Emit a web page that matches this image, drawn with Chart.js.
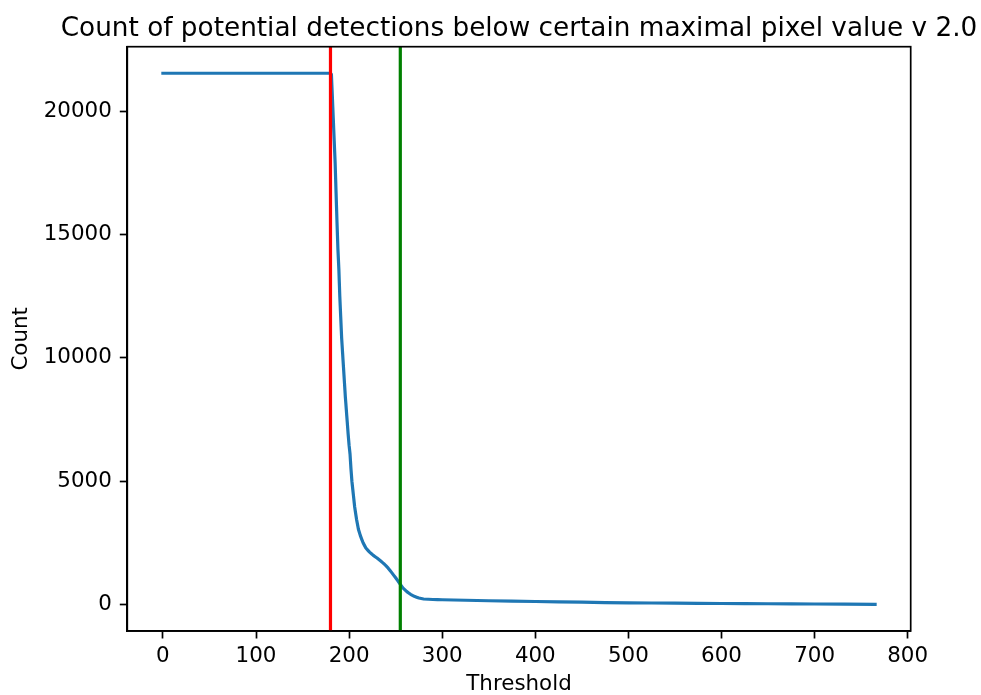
<!DOCTYPE html>
<html>
<head>
<meta charset="utf-8">
<script src="https://cdn.jsdelivr.net/npm/chart.js@4/dist/chart.umd.min.js"></script>
<style>
  html, body { margin: 0; padding: 0; background: #ffffff; }
  canvas { display: block; }
</style>
</head>
<body>
<canvas id="c" width="981" height="695"></canvas>
<script>
// ---- data ----
const thresholds = [0, 180, 181, 182, 183, 184, 185, 186, 187, 188, 189, 190, 192, 193, 194, 195, 196, 197, 198, 199, 200, 201, 202, 203, 204, 205, 206, 208, 210, 212, 215, 218, 222, 226, 230, 234, 238, 242, 246, 250, 254, 258, 262, 266, 270, 275, 280, 290, 300, 350, 400, 450, 500, 550, 600, 650, 700, 765];
const counts = [21540, 21540, 21500, 20600, 19700, 18800, 17900, 16700, 15500, 14400, 13600, 12500, 10800, 10200, 9600, 9000, 8400, 7900, 7400, 6900, 6450, 6100, 5500, 5000, 4650, 4300, 3950, 3450, 3050, 2800, 2500, 2290, 2120, 1990, 1880, 1760, 1630, 1470, 1280, 1080, 870, 660, 520, 410, 330, 260, 220, 200, 190, 150, 120, 90, 65, 50, 38, 28, 18, 5];
const redLineX = [180];
const greenLineX = [255];
const xTicks = [0, 100, 200, 300, 400, 500, 600, 700, 800];
const yTicks = [0, 5000, 10000, 15000, 20000];
const xRange = [-38.25, 803.25];
const yRange = [-1077, 22617];

const titleText = 'Count of potential detections below certain maximal pixel value v 2.0';
const xLabel = 'Threshold';
const yLabel = 'Count';

const FONT = 'DejaVu Sans';
const TICK_PX = 21.4;
const TITLE_PX = 26.3;

const curveData = thresholds.map((t, i) => ({ x: t, y: counts[i] }));
const vline = (x) => [{ x: x, y: yRange[0] }, { x: x, y: yRange[1] }];

const frame = {
  id: 'frame',
  afterDatasetsDraw(chart) {
    const a = chart.chartArea, ctx = chart.ctx;
    ctx.save();
    ctx.strokeStyle = '#000';
    ctx.lineWidth = 1.7;
    ctx.strokeRect(a.left, a.top, a.right - a.left, a.bottom - a.top);
    ctx.restore();
  },
  afterDraw(chart) {
    const a = chart.chartArea, ctx = chart.ctx;
    ctx.save();
    ctx.fillStyle = '#000';
    ctx.font = TITLE_PX + 'px "' + FONT + '"';
    ctx.textAlign = 'center';
    ctx.textBaseline = 'alphabetic';
    ctx.fillText(titleText, (a.left + a.right) / 2, 35.5);
    ctx.restore();
  }
};

new Chart(document.getElementById('c'), {
  type: 'line',
  data: {
    datasets: [
      { data: vline(redLineX[0]), borderColor: '#ff0000', borderWidth: 3.2, pointRadius: 0, borderCapStyle: 'butt' },
      { data: vline(greenLineX[0]), borderColor: '#008000', borderWidth: 3.2, pointRadius: 0, borderCapStyle: 'butt' },
      { data: curveData, borderColor: '#1f77b4', borderWidth: 3.2, pointRadius: 0, tension: 0.0001, borderJoinStyle: 'round', borderCapStyle: 'square' }
    ]
  },
  options: {
    responsive: false,
    animation: false,
    devicePixelRatio: 1,
    events: [],
    layout: { padding: { left: 0, right: 70.3, top: 46.7, bottom: 0 } },
    plugins: {
      legend: { display: false },
      tooltip: { enabled: false },
      title: { display: false }
    },
    scales: {
      x: {
        type: 'linear',
        min: xRange[0],
        max: xRange[1],
        afterBuildTicks: (s) => { s.ticks = xTicks.map(v => ({ value: v })); },
        afterFit: (s) => { s.height = 64; },
        ticks: { color: '#000', font: { family: FONT, size: TICK_PX, lineHeight: 1.2 }, padding: 5, maxRotation: 0, autoSkip: false, callback: (v) => String(v) },
        grid: { drawOnChartArea: false, drawTicks: true, tickLength: 7.5, tickWidth: 1.7, tickColor: '#000' },
        border: { display: true, color: '#000', width: 1.7 },
        title: { display: true, text: xLabel, color: '#000', font: { family: FONT, size: TICK_PX, lineHeight: 1.0 }, padding: { top: 0, bottom: 0 } }
      },
      y: {
        type: 'linear',
        min: yRange[0],
        max: yRange[1],
        afterBuildTicks: (s) => { s.ticks = yTicks.map(v => ({ value: v })); },
        afterFit: (s) => { s.width = 127.3; },
        ticks: { color: '#000', font: { family: FONT, size: TICK_PX }, padding: 8, autoSkip: false, callback: (v) => String(v) },
        grid: { drawOnChartArea: false, drawTicks: true, tickLength: 7.5, tickWidth: 1.7, tickColor: '#000' },
        border: { display: true, color: '#000', width: 1.7 },
        title: { display: true, text: yLabel, color: '#000', font: { family: FONT, size: TICK_PX, lineHeight: 1.2 }, padding: { top: 9, bottom: 0 } }
      }
    }
  },
  plugins: [frame]
});
</script>
</body>
</html>
